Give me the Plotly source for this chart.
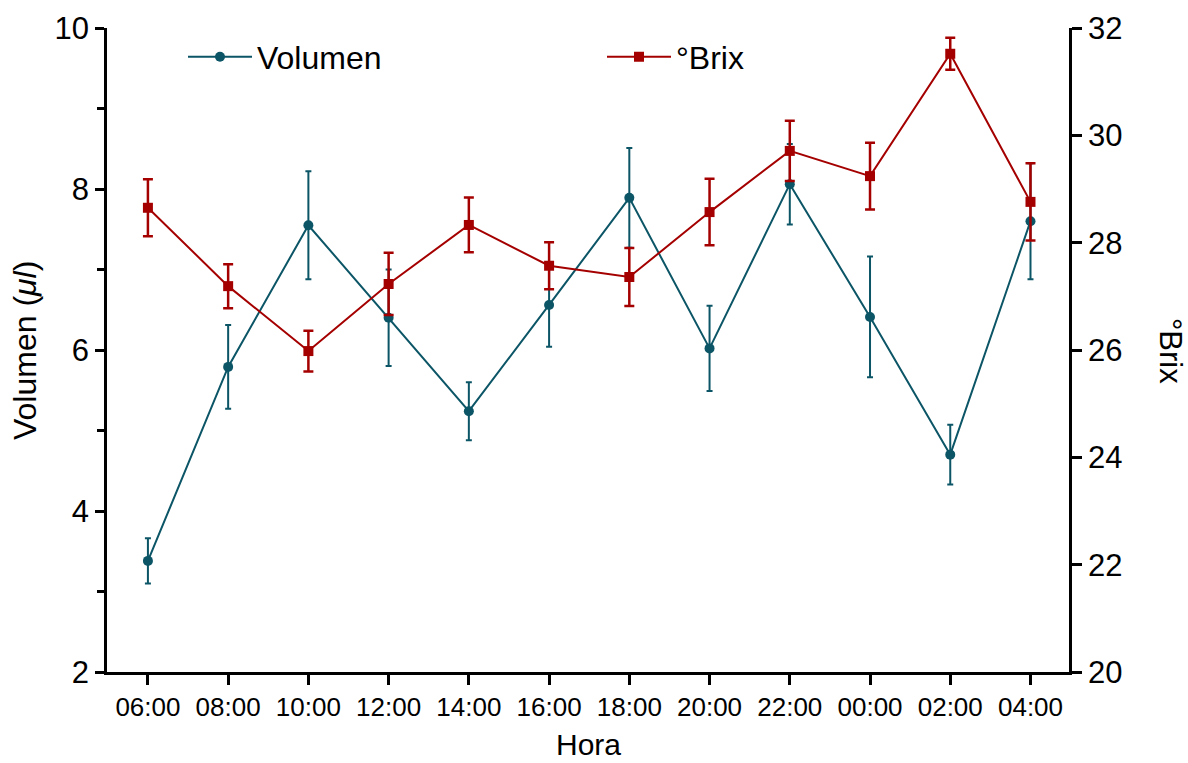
import plotly.graph_objects as go

horas = ["06:00", "08:00", "10:00", "12:00", "14:00", "16:00", "18:00", "20:00", "22:00", "00:00", "02:00", "04:00"]
volumen = [3.38, 5.79, 7.55, 6.40, 5.24, 6.56, 7.89, 6.02, 8.06, 6.41, 4.70, 7.60]
volumen_err = [0.28, 0.52, 0.67, 0.60, 0.36, 0.52, 0.62, 0.53, 0.50, 0.75, 0.37, 0.72]
brix = [28.65, 27.19, 25.98, 27.23, 28.33, 27.57, 27.36, 28.57, 29.71, 29.24, 31.52, 28.76]
brix_err = [0.53, 0.41, 0.38, 0.58, 0.51, 0.44, 0.54, 0.62, 0.56, 0.62, 0.30, 0.72]

teal = "#0B5566"
red = "#A50000"
xs = list(range(len(horas)))
FONT = "Liberation Sans, Arial, sans-serif"

fig = go.Figure()
fig.add_trace(go.Scatter(
    x=xs, y=volumen, name="Volumen", mode="lines+markers",
    line=dict(color=teal, width=2),
    marker=dict(symbol="circle", size=10, color=teal),
    error_y=dict(type="data", array=volumen_err, visible=True, color=teal, thickness=2, width=3),
    yaxis="y",
))
fig.add_trace(go.Scatter(
    x=xs, y=brix, name="°Brix", mode="lines+markers",
    line=dict(color=red, width=2),
    marker=dict(symbol="square", size=10, color=red),
    error_y=dict(type="data", array=brix_err, visible=True, color=red, thickness=2.5, width=5),
    yaxis="y2",
))

axis_common = dict(showline=True, linecolor="black", linewidth=2.5, showgrid=False, zeroline=False,
                   ticks="outside", tickcolor="black", tickwidth=2.5)

fig.update_layout(
    width=1188, height=763,
    margin=dict(l=107, r=119, t=28, b=91),
    plot_bgcolor="white", paper_bgcolor="white",
    font=dict(family=FONT, color="black"),
    xaxis=dict(range=[-0.51, 11.48], tickvals=xs, ticktext=horas, ticklen=10,
               tickfont=dict(size=26), **axis_common),
    yaxis=dict(range=[2, 10], tickvals=[2, 4, 6, 8, 10], ticklen=9, tickfont=dict(size=31),
               minor=dict(tickvals=[3, 5, 7, 9], ticks="outside", ticklen=7, tickwidth=2.5, tickcolor="black"),
               **axis_common),
    yaxis2=dict(range=[20, 32], tickvals=[20, 22, 24, 26, 28, 30, 32], ticklen=10, tickfont=dict(size=31),
                overlaying="y", side="right", anchor="x", **axis_common),
    legend=dict(orientation="h", x=0.079, y=0.955, xanchor="left", yanchor="middle",
                font=dict(size=32), entrywidth=340, entrywidthmode="pixels",
                itemwidth=64, bgcolor="rgba(0,0,0,0)"),
    showlegend=True,
    annotations=[
        dict(text="Hora", x=0.5, y=-0.113, xref="paper", yref="paper", showarrow=False,
             xanchor="center", yanchor="middle", font=dict(size=30)),
        dict(text="Volumen (<i>μl</i>)", x=-0.0852, y=0.4985, xref="paper", yref="paper", showarrow=False,
             textangle=-90, xanchor="center", yanchor="middle", font=dict(size=32)),
        dict(text="°Brix", x=1.105, y=0.4985, xref="paper", yref="paper", showarrow=False,
             textangle=90, xanchor="center", yanchor="middle", font=dict(size=31)),
    ],
)

fig.write_html("out.html")
